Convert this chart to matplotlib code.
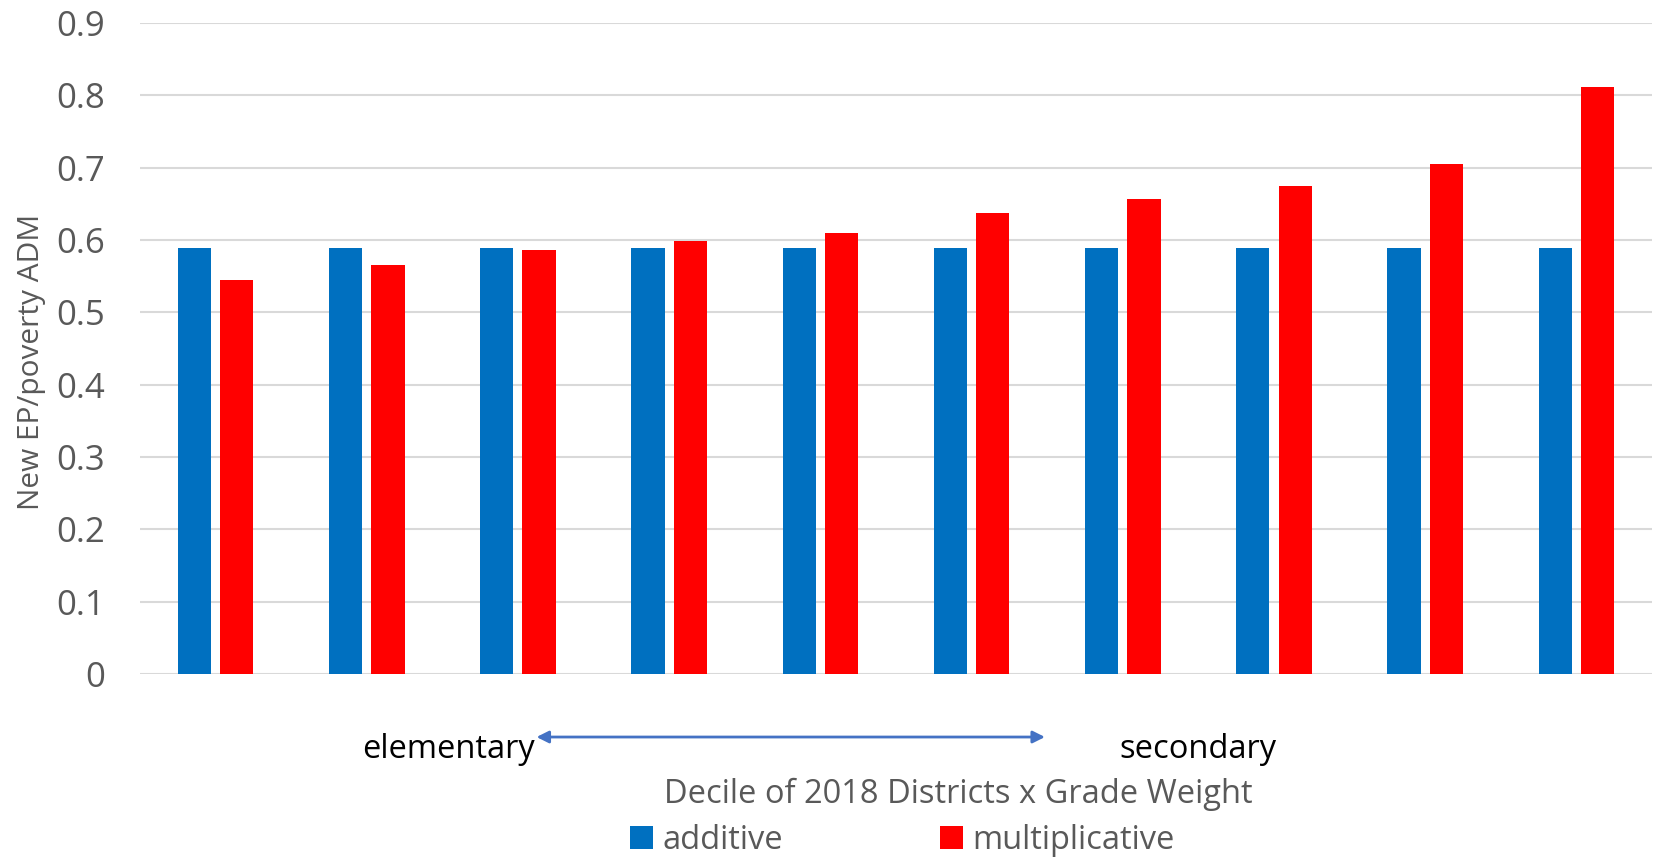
import numpy as np
import matplotlib.pyplot as plt

plt.rcParams['font.family'] = ['Open Sans', 'DejaVu Sans']

# deciles and the two weighting schemes
deciles = np.arange(1, 11)
additive = [0.589, 0.589, 0.589, 0.589, 0.589, 0.589, 0.589, 0.589, 0.589, 0.589]
multiplicative = [0.545, 0.566, 0.586, 0.598, 0.609, 0.637, 0.657, 0.675, 0.705, 0.811]
yticks = [0, 0.1, 0.2, 0.3, 0.4, 0.5, 0.6, 0.7, 0.8, 0.9]

grey = '#595959'

fig = plt.figure(figsize=(16.56, 8.58), dpi=100)
ax = fig.add_axes([0.0845, 0.2145, 0.9131, 0.7587])

w = 0.22
b1 = ax.bar(deciles - 0.14, additive, w, color='#0070C0', label='additive', zorder=3)
b2 = ax.bar(deciles + 0.14, multiplicative, w, color='#FF0000', label='multiplicative', zorder=3)

ax.set_xlim(0.5, 10.5)
ax.set_ylim(0, 0.9)
ax.set_yticks(yticks)
ax.set_yticklabels([f'{t:g}' for t in yticks])
ax.set_xticks([])
ax.tick_params(axis='y', length=0, pad=25, labelsize=25, labelcolor=grey)
ax.grid(axis='y', color='#D9D9D9', lw=1.5, zorder=0)
for s in ax.spines.values():
    s.set_visible(False)

fig.text(0.019, 0.578, 'New EP/poverty ADM', rotation=90, ha='center', va='center',
         fontsize=21.5, color=grey)

# elementary <-> secondary arrow under the axis
fig.text(0.323, 0.127, 'elementary', ha='right', va='center', fontsize=23.5, color='black')
fig.text(0.676, 0.127, 'secondary', ha='left', va='center', fontsize=23.5, color='black')
ax.annotate('', xy=(0.631, 0.141), xytext=(0.324, 0.141),
            xycoords='figure fraction', textcoords='figure fraction',
            arrowprops=dict(arrowstyle='<|-|>', color='#4472C4', lw=2, mutation_scale=18,
                            shrinkA=0, shrinkB=0))

fig.text(0.5785, 0.074, 'Decile of 2018 Districts x Grade Weight', ha='center', va='center',
         fontsize=23.5, color=grey)

fig.legend(handles=[b1, b2], loc='center', bbox_to_anchor=(0.545, 0.02), ncol=2,
           frameon=False, fontsize=23.5, labelcolor=grey, handlelength=0.7, handleheight=0.7,
           handletextpad=0.3, columnspacing=4.8, borderpad=0)

plt.savefig('out.png', dpi=100)
